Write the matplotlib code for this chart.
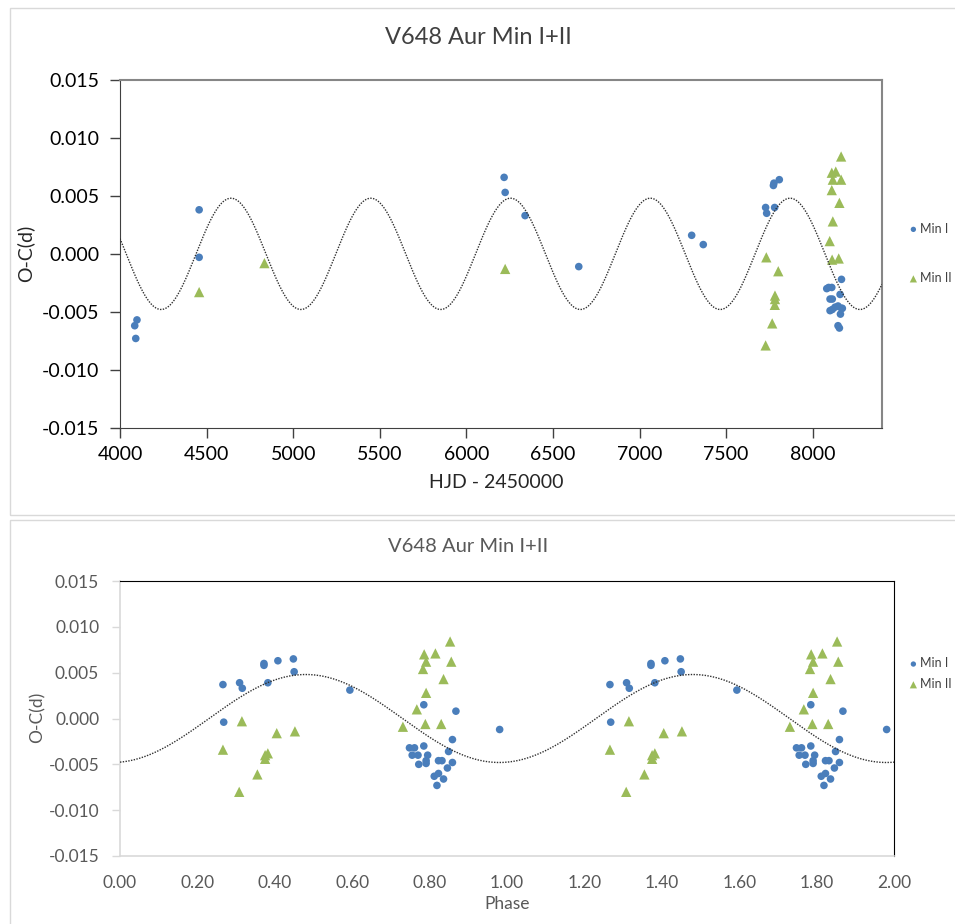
import numpy as np
import matplotlib.pyplot as plt
from matplotlib.patches import Rectangle

# ---- data ----
# top panel: O-C vs HJD - 2450000
hjd_min1 = [4085, 4098, 4091, 4457, 4457, 6218, 6224, 6339, 6649, 7301, 7368,
            7728, 7734, 7780, 7773, 7776, 7807,
            8166, 8081, 8092, 8110, 8100, 8113, 8158, 8100, 8113, 8129, 8146,
            8166, 8171, 8160, 8146, 8154]
oc_min1 = [-0.0062, -0.0057, -0.0073, 0.0038, -0.0003, 0.0066, 0.0053, 0.0033, -0.0011, 0.0016, 0.0008,
           0.0040, 0.0035, 0.0040, 0.0059, 0.0061, 0.0064,
           -0.0022, -0.0030, -0.0029, -0.0029, -0.0039, -0.0039, -0.0035, -0.0049, -0.0048, -0.0046, -0.0045,
           -0.0047, -0.0047, -0.0052, -0.0062, -0.0064]
hjd_min2 = [4457, 4834, 6224, 7732, 7801, 7782, 7782, 7781, 7766, 7728,
            8164, 8110, 8133, 8116, 8164, 8110, 8154, 8116, 8098, 8112, 8150]
oc_min2 = [-0.0033, -0.0008, -0.0013, -0.0003, -0.0015, -0.0036, -0.0039, -0.0044, -0.0060, -0.0079,
           0.0084, 0.0070, 0.0071, 0.0064, 0.0064, 0.0055, 0.0044, 0.0028, 0.0011, -0.0005, -0.0004]

# bottom panel: O-C vs phase (shown twice, 0-2)
phase_min1 = [0.266, 0.268, 0.309, 0.316, 0.372, 0.372, 0.382, 0.408, 0.448, 0.450, 0.594,
              0.785, 0.868, 0.981, 0.748, 0.761, 0.785, 0.849, 0.755, 0.770, 0.795,
              0.791, 0.791, 0.772, 0.823, 0.832, 0.859, 0.846, 0.823, 0.812, 0.836, 0.819, 0.859]
ocph_min1 = [0.0037, -0.0004, 0.0039, 0.0033, 0.0060, 0.0058, 0.0039, 0.0063, 0.0065, 0.0051, 0.0031,
             0.0015, 0.0008, -0.0012, -0.0032, -0.0032, -0.0030, -0.0036, -0.0040, -0.0040, -0.0040,
             -0.0046, -0.0049, -0.0050, -0.0046, -0.0046, -0.0048, -0.0054, -0.0060, -0.0063, -0.0066, -0.0073, -0.0023]
phase_min2 = [0.315, 0.266, 0.405, 0.452, 0.375, 0.382, 0.375, 0.355, 0.308,
              0.853, 0.786, 0.815, 0.791, 0.856, 0.783, 0.836, 0.791, 0.767, 0.731, 0.789, 0.830]
ocph_min2 = [-0.0003, -0.0034, -0.0016, -0.0014, -0.0040, -0.0038, -0.0044, -0.0061, -0.0080,
             0.0084, 0.0070, 0.0071, 0.0062, 0.0062, 0.0054, 0.0043, 0.0028, 0.0010, -0.0009, -0.0006, -0.0006]

# fitted LTTE-like curve
amp = 0.0048
period = 807.0
t_peak = 4641.0
ph_peak = 0.48

title = "V648 Aur Min I+II"
blue = "#4a7ebb"
green = "#9bbb59"
plt.rcParams['font.family'] = ['Lato', 'DejaVu Sans']

W, H = 955, 924
fig = plt.figure(figsize=(W / 100, H / 100), dpi=100)

def fx(px):
    return px / W

def fy(py):
    return 1 - py / H

# panel frames
fig.patches.append(Rectangle((fx(10), fy(515)), 1, (515 - 8) / H, transform=fig.transFigure,
                             fill=False, edgecolor='#d9d9d9', lw=1))
fig.patches.append(Rectangle((fx(10), fy(940)), 1, (940 - 520) / H, transform=fig.transFigure,
                             fill=False, edgecolor='#d9d9d9', lw=1))

# ---------------- top panel ----------------
ax1 = fig.add_axes([fx(120), fy(427.7), 762 / W, 347.7 / H])
ax1.scatter(hjd_min1, oc_min1, s=30, marker='o', color=blue, edgecolors='none', label='Min I', zorder=2)
ax1.scatter(hjd_min2, oc_min2, s=55, marker='^', color=green, edgecolors='none', label='Min II', zorder=2)
t = np.linspace(4000, 8400, 1500)
ax1.plot(t, amp * np.cos(2 * np.pi * (t - t_peak) / period), color='#303030', lw=1.0,
         linestyle=(0, (1, 1)), zorder=3)
ax1.set_xlim(4000, 8400)
ax1.set_ylim(-0.015, 0.015)
ax1.set_xticks(np.arange(4000, 8001, 500))
ax1.set_yticks(np.arange(-0.015, 0.0151, 0.005))
ax1.yaxis.set_major_formatter(plt.FuncFormatter(lambda v, p: f"{v:.3f}".replace("-0.000", "0.000")))
ax1.tick_params(axis='both', direction='out', length=7, width=1, color='#404040',
                labelsize=14, labelcolor='black')
ax1.tick_params(axis='y', pad=8)
ax1.tick_params(axis='x', pad=6)
for side in ['left', 'bottom']:
    ax1.spines[side].set_color('#404040')
for side in ['top', 'right']:
    ax1.spines[side].set_color('#868686')
    ax1.spines[side].set_linewidth(1.5)
leg1 = ax1.legend(loc='center left', bbox_to_anchor=(fx(909), fy(253.4)), bbox_transform=fig.transFigure,
                  frameon=False, fontsize=9, labelspacing=3.0, handlelength=0.7, handletextpad=0.2,
                  borderpad=0, borderaxespad=0, markerscale=0.7)
for txt in leg1.get_texts():
    txt.set_color('#404040')

fig.text(fx(478), fy(37), title, ha='center', va='center', fontsize=17, color='#404040')
fig.text(fx(496), fy(483), "HJD - 2450000", ha='center', va='center', fontsize=14, color='#262626')
fig.text(fx(25), fy(253), "O-C(d)", ha='center', va='center', rotation=90, fontsize=14, color='#262626')

# ---------------- bottom panel ----------------
ax2 = fig.add_axes([fx(120), fy(856), 774 / W, 275 / H])
ax2.scatter(phase_min1, ocph_min1, s=30, marker='o', color=blue, edgecolors='none', label='Min I', zorder=2)
ax2.scatter(np.array(phase_min1) + 1, ocph_min1, s=30, marker='o', color=blue, edgecolors='none', zorder=2)
ax2.scatter(phase_min2, ocph_min2, s=55, marker='^', color=green, edgecolors='none', label='Min II', zorder=2)
ax2.scatter(np.array(phase_min2) + 1, ocph_min2, s=55, marker='^', color=green, edgecolors='none', zorder=2)
ph = np.linspace(0, 2, 800)
ax2.plot(ph, amp * np.cos(2 * np.pi * (ph - ph_peak)), color='#303030', lw=1.0,
         linestyle=(0, (1, 1)), zorder=3)
ax2.set_xlim(0, 2)
ax2.set_ylim(-0.015, 0.015)
ax2.set_xticks(np.arange(0, 2.01, 0.2))
ax2.xaxis.set_major_formatter(plt.FuncFormatter(lambda v, p: f"{v:.2f}"))
ax2.set_yticks(np.arange(-0.015, 0.0151, 0.005))
ax2.yaxis.set_major_formatter(plt.FuncFormatter(lambda v, p: f"{v:.3f}".replace("-0.000", "0.000")))
ax2.tick_params(axis='y', direction='out', length=6, width=1, color='#d9d9d9',
                labelsize=12.5, labelcolor='#595959', pad=9)
ax2.tick_params(axis='x', length=0, labelsize=12.5, labelcolor='#595959', pad=14)
for side in ['left', 'bottom']:
    ax2.spines[side].set_color('#d9d9d9')
    ax2.spines[side].set_linewidth(1.2)
for side in ['top', 'right']:
    ax2.spines[side].set_color('black')
leg2 = ax2.legend(loc='center left', bbox_to_anchor=(fx(909), fy(673.7)), bbox_transform=fig.transFigure,
                  frameon=False, fontsize=9, labelspacing=0.7, handlelength=0.7, handletextpad=0.2,
                  borderpad=0, borderaxespad=0, markerscale=0.7)
for txt in leg2.get_texts():
    txt.set_color('#404040')

fig.text(fx(468), fy(547), title, ha='center', va='center', fontsize=14.5, color='#595959')
fig.text(fx(507), fy(904), "Phase", ha='center', va='center', fontsize=12.5, color='#595959')
fig.text(fx(37), fy(717), "O-C(d)", ha='center', va='center', rotation=90, fontsize=12.5, color='#595959')

fig.savefig("out.png", dpi=100)
